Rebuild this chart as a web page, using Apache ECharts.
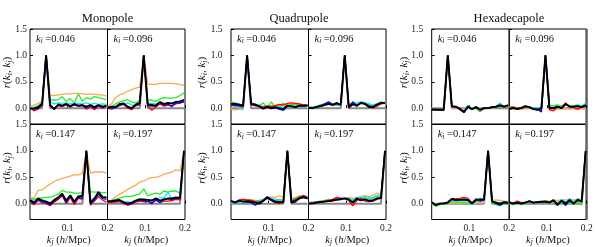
<!DOCTYPE html>
<html><head><meta charset="utf-8">
<script src="https://cdn.jsdelivr.net/npm/echarts@6/dist/echarts.min.js"></script>
<style>html,body{margin:0;padding:0;background:#fff}#c{width:598px;height:247px}</style>
</head><body><div id="c"></div>
<script>
// k_j bin centres (h/Mpc)
const kj = [0.0056,0.0157,0.0258,0.0359,0.046,0.0561,0.0662,0.0763,0.0864,0.0965,0.1066,0.1167,0.1268,0.1369,0.147,0.1571,0.1672,0.1773,0.1874,0.1975];
const kiLabels = ['0.046','0.096','0.147','0.197'];
const groupTitles = ['Monopole','Quadrupole','Hexadecapole'];
const xTicks = [0.1, 0.2];
const yTicks = [0, 0.5, 1.0, 1.5];
// series order in every panel: orange, green, cyan, red, blue, black
const seriesNames = ['orange','green','cyan','red','blue','black'];
// Gaussian expectation (delta) for each k_i
const delta046 = [0,0,0,0,1,0,0,0,0,0,0,0,0,0,0,0,0,0,0,0];
const delta096 = [0,0,0,0,0,0,0,0,0,1,0,0,0,0,0,0,0,0,0,0];
const delta147 = [0,0,0,0,0,0,0,0,0,0,0,0,0,0,1,0,0,0,0,0];
const delta197 = [0,0,0,0,0,0,0,0,0,0,0,0,0,0,0,0,0,0,0,1];

// Monopole
const mono046 = [
 [0.03,0.06,0.09,0.13,1,0.24,0.24,0.25,0.26,0.27,0.27,0.28,0.28,0.27,0.26,0.27,0.26,0.25,0.25,0.23],
 [0.0,0.02,0.05,0.1,1,0.16,0.15,0.16,0.22,0.13,0.18,0.1,0.27,0.13,0.2,0.17,0.22,0.2,0.18,0.16],
 [0.02,0.0,0.03,0.08,1,0.12,0.08,0.1,0.09,0.1,0.08,0.1,0.09,0.08,0.1,0.07,0.09,0.07,0.08,0.07],
 [0.0,-0.05,-0.02,0.05,1,0.04,-0.02,0.05,0.03,0.06,0.02,0.06,0.04,0.05,-0.02,0.03,-0.03,0.04,0.0,0.03],
 [-0.01,-0.02,0.0,0.06,1,0.05,0.0,0.06,0.04,0.07,0.03,0.07,0.04,0.05,0.01,0.05,0.0,0.05,0.02,0.04],
 [0.0,-0.01,0.02,0.08,1,0.06,-0.02,0.07,0.05,0.08,0.04,0.08,0.05,0.06,0.03,0.06,0.02,0.06,0.03,0.05]];
const mono096 = [
 [0.03,0.08,0.2,0.25,0.28,0.32,0.35,0.38,0.4,1,0.45,0.45,0.45,0.47,0.47,0.47,0.47,0.46,0.45,0.43],
 [0.02,0.03,0.08,0.12,0.14,0.16,0.12,0.1,0.15,1,0.16,0.15,0.13,0.17,0.2,0.19,0.19,0.2,0.24,0.29],
 [0.01,0.02,0.04,0.06,0.08,0.1,0.06,0.04,0.07,1,0.1,0.09,0.08,0.1,0.08,0.09,0.08,0.1,0.1,0.12],
 [0.0,-0.02,0.01,0.05,0.07,0.0,-0.03,0.05,0.06,1,0.04,-0.04,0.02,0.08,0.04,0.06,0.05,0.08,0.1,0.12],
 [0.0,0.0,0.01,0.06,0.08,0.02,-0.01,0.06,0.08,1,0.05,0.04,0.04,0.1,0.06,0.08,0.03,0.1,0.1,0.13],
 [0.01,0.03,0.02,0.08,0.09,0.03,0.0,0.07,0.1,1,0.07,0.06,0.05,0.12,0.08,0.1,0.09,0.12,0.13,0.16]];
const mono147 = [
 [0.13,0.1,0.25,0.26,0.32,0.37,0.42,0.45,0.48,0.5,0.52,0.55,0.54,0.58,1,0.58,0.6,0.6,0.6,0.58],
 [0.1,0.08,0.1,0.11,0.12,0.12,0.15,0.18,0.25,0.22,0.22,0.2,0.2,0.2,1,0.23,0.22,0.22,0.21,0.21],
 [0.08,0.04,0.07,0.08,0.05,0.02,0.05,0.1,0.15,0.08,0.14,0.04,0.13,0.12,1,0.07,0.1,0.15,0.12,0.1],
 [0.03,-0.02,0.06,0.02,0.0,-0.04,0.03,0.08,0.15,0.0,0.12,-0.02,0.1,0.08,1,-0.03,0.05,0.13,0.07,0.03],
 [0.05,0.0,0.08,0.04,0.02,-0.02,0.05,0.1,0.17,0.03,0.14,0.02,0.12,0.1,1,0.0,0.07,0.18,0.1,0.08],
 [0.07,0.02,0.1,0.06,0.04,0.0,0.07,0.12,0.19,0.06,0.16,0.04,0.14,0.15,1,0.02,0.1,0.22,0.13,0.12]];
const mono197 = [
 [0.02,0.07,0.13,0.18,0.22,0.27,0.31,0.35,0.41,0.43,0.47,0.5,0.5,0.52,0.56,0.58,0.6,0.64,0.62,1],
 [0.03,0.06,0.08,0.11,0.13,0.14,0.14,0.16,0.18,0.28,0.15,0.18,0.2,0.18,0.24,0.22,0.24,0.24,0.2,1],
 [0.03,0.02,0.08,0.05,0.02,0.04,0.02,0.06,0.1,0.05,0.04,0.08,0.06,0.12,0.1,0.22,0.08,0.1,0.12,1],
 [0.02,0.02,0.03,0.04,0.0,-0.03,-0.01,0.03,0.05,0.04,0.04,0.02,0.06,0.03,0.05,0.05,0.06,0.08,0.07,1],
 [0.04,0.04,0.05,0.06,0.02,-0.01,0.0,0.05,0.07,0.06,0.05,0.0,0.08,0.02,0.07,0.09,0.08,0.1,0.1,1],
 [0.05,0.05,0.06,0.07,0.03,0.0,0.02,0.06,0.08,0.08,0.07,0.06,0.1,0.06,0.08,0.1,0.1,0.12,0.11,1]];

// Quadrupole
const quad046 = [
 [-0.02,-0.03,-0.02,-0.03,1,0.05,0.06,0.05,0.04,0.05,0.05,0.05,0.06,0.05,0.07,0.06,0.07,0.06,0.05,0.05],
 [0.12,0.1,0.07,0.05,1,0.1,0.08,0.05,0.1,0.0,0.12,0.02,0.03,0.1,0.03,0.07,0.06,0.06,0.05,0.06],
 [0.05,0.04,0.0,-0.02,1,0.06,0.05,0.04,0.03,0.02,0.04,0.02,0.03,0.02,0.04,0.01,0.03,0.04,0.03,0.04],
 [0.06,0.05,0.04,0.02,1,0.06,0.05,0.03,0.02,0.04,0.03,0.05,0.07,0.06,0.09,0.1,0.09,0.08,0.06,0.06],
 [0.06,0.06,0.05,0.04,1,0.07,0.06,0.03,0.0,0.02,-0.01,0.01,-0.02,-0.04,0.04,0.03,0.02,0.04,0.04,0.05],
 [0.08,0.08,0.07,0.05,1,0.08,0.07,0.04,-0.01,0.03,0.0,0.02,0.0,-0.02,0.05,0.04,0.02,0.05,0.05,0.05]];
const quad096 = [
 [0.0,0.0,0.02,0.03,0.05,0.07,0.06,0.07,0.06,1,0.03,0.06,0.07,0.1,0.08,0.07,0.05,0.08,0.1,0.09],
 [0.03,0.02,0.04,0.06,0.08,0.1,0.08,0.07,0.08,1,0.05,0.1,0.06,0.12,0.1,0.06,0.04,0.08,0.12,0.1],
 [0.0,-0.01,0.02,0.03,0.05,0.08,0.05,0.06,0.05,1,0.05,0.08,0.1,0.12,0.1,0.08,0.06,0.08,0.09,0.11],
 [0.01,0.0,0.02,0.04,0.06,0.09,0.06,0.08,0.07,1,0.0,0.07,0.06,0.09,0.08,0.05,0.0,0.04,0.08,0.09],
 [0.01,0.0,0.03,0.05,0.08,0.12,0.07,0.09,0.07,1,0.03,0.12,0.05,0.1,0.09,0.04,0.03,0.06,0.09,0.1],
 [0.0,0.0,0.02,0.04,0.06,0.08,0.06,0.1,0.06,1,0.02,0.08,0.04,0.1,0.08,0.02,0.02,0.07,0.1,0.1]];
const quad147 = [
 [0.03,0.02,0.05,0.05,0.06,0.07,0.06,0.05,0.08,0.12,0.13,0.12,0.15,0.12,1,0.1,0.12,0.15,0.14,0.12],
 [0.05,0.02,0.06,0.05,0.06,0.07,0.05,0.06,0.08,0.1,0.08,0.06,0.08,0.06,1,0.08,0.1,0.14,0.12,0.1],
 [0.02,0.0,0.03,0.04,0.03,0.04,0.03,0.04,0.08,0.13,0.1,0.08,0.06,0.05,1,0.06,0.08,0.1,0.11,0.09],
 [0.04,0.03,0.07,0.08,0.07,0.06,0.04,0.03,0.06,0.1,0.06,0.02,0.0,0.02,1,0.05,0.08,0.12,0.16,0.12],
 [0.06,0.03,0.05,0.04,0.03,0.02,-0.03,0.02,0.06,0.13,0.08,0.05,0.04,0.03,1,0.04,0.06,0.1,0.12,0.1],
 [0.05,0.02,0.06,0.04,0.05,0.04,0.02,0.0,0.05,0.12,0.07,0.03,0.03,0.03,1,0.02,0.04,0.1,0.13,0.1]];
const quad197 = [
 [0.0,0.01,0.02,0.03,0.04,0.05,0.06,0.07,0.08,0.1,0.12,0.1,0.12,0.14,0.15,0.14,0.16,0.2,0.17,1],
 [0.02,0.03,0.04,0.05,0.06,0.08,0.07,0.1,0.08,0.1,0.08,0.06,0.08,0.1,0.1,0.12,0.1,0.15,0.12,1],
 [0.01,0.01,0.02,0.04,0.05,0.06,0.07,0.08,0.1,0.09,0.1,0.08,0.1,0.12,0.13,0.1,0.12,0.16,0.14,1],
 [0.01,0.02,0.03,0.04,0.05,0.06,0.08,0.12,0.1,0.1,0.06,-0.04,0.06,0.1,0.05,0.04,0.05,0.08,0.1,1],
 [0.0,0.01,0.02,0.03,0.04,0.05,0.06,0.08,0.1,0.1,0.07,0.03,0.08,0.07,0.08,0.05,0.06,0.1,0.1,1],
 [0.0,0.0,0.02,0.03,0.04,0.05,0.06,0.07,0.08,0.1,0.08,0.02,0.1,0.06,0.08,0.06,0.06,0.1,0.11,1]];

// Hexadecapole
const hexa046 = [
 [0.01,0.0,0.0,0.0,1,-0.01,0.0,-0.01,0.0,0.0,0.01,0.01,0.0,0.0,0.01,0.01,0.01,0.02,0.01,0.02],
 [-0.02,-0.02,-0.02,-0.05,1,0.03,0.02,0.0,-0.05,0.05,-0.01,0.0,-0.07,-0.01,0.01,0.01,0.03,0.02,0.04,0.02],
 [0.0,0.0,-0.01,-0.02,1,0.05,0.02,0.0,-0.04,0.04,0.0,0.03,-0.02,0.01,0.0,0.02,0.04,0.1,0.0,0.07],
 [-0.02,-0.02,-0.02,-0.03,1,0.02,0.03,0.0,-0.06,0.02,-0.02,0.01,-0.04,-0.01,0.0,0.02,0.02,0.04,0.02,0.04],
 [-0.02,-0.03,-0.03,-0.03,1,0.03,0.02,-0.01,-0.07,0.03,-0.02,0.02,-0.03,0.0,0.0,0.02,0.03,0.05,0.03,0.05],
 [-0.03,-0.03,-0.03,-0.03,1,0.04,0.03,-0.02,-0.08,0.03,-0.02,0.02,-0.03,0.0,0.0,0.02,0.03,0.06,0.03,0.06]];
const hexa096 = [
 [0.03,0.02,-0.01,-0.02,-0.01,0.0,-0.01,-0.02,0.0,1,-0.02,-0.02,-0.01,-0.02,-0.01,-0.02,-0.01,-0.02,-0.01,-0.02],
 [0.02,0.02,0.01,0.02,0.04,0.03,0.0,-0.01,0.02,1,0.04,0.05,0.06,0.04,0.08,0.04,0.05,0.06,0.04,0.08],
 [0.0,0.01,0.0,0.01,0.03,0.02,0.0,0.0,0.02,1,0.03,0.02,0.04,0.02,0.08,0.03,0.04,0.05,0.04,0.09],
 [0.01,0.02,0.0,0.0,0.03,0.02,-0.01,-0.03,-0.04,1,-0.03,-0.05,0.02,0.01,0.1,0.03,0.01,-0.02,0.02,0.03],
 [-0.01,0.0,-0.01,0.0,0.03,0.02,-0.02,-0.02,-0.07,1,0.02,0.0,0.03,0.0,0.07,0.03,0.03,0.04,0.02,0.05],
 [-0.02,0.0,-0.02,0.0,0.04,0.02,-0.02,-0.03,0.0,1,0.0,0.0,0.03,0.0,0.08,0.03,0.03,0.04,0.02,0.06]];
const hexa147 = [
 [0.01,0.0,0.0,0.0,0.0,0.01,0.01,0.0,0.01,0.01,0.0,0.01,0.02,0.01,1,0.06,0.07,0.06,0.05,0.04],
 [0.0,-0.05,-0.02,-0.01,0.0,0.04,0.03,0.02,0.03,0.0,0.01,0.04,0.05,0.06,1,0.02,-0.02,-0.04,0.0,-0.02],
 [0.01,-0.03,0.0,0.0,0.02,0.06,0.05,0.05,0.06,0.05,-0.01,0.06,0.1,0.07,1,0.06,0.03,0.01,0.04,0.03],
 [0.02,-0.02,0.0,0.01,0.03,0.1,0.09,0.1,0.12,0.1,0.02,0.08,0.06,0.07,1,0.05,0.01,-0.01,0.02,0.0],
 [0.02,-0.02,0.0,0.01,0.03,0.08,0.06,0.07,0.07,0.06,0.01,0.09,0.05,0.07,1,0.05,0.0,-0.03,0.02,0.01],
 [0.03,-0.03,0.0,0.0,0.02,0.09,0.07,0.07,0.08,0.07,0.0,0.07,0.08,0.08,1,0.04,0.02,0.0,0.03,0.02]];
const hexa197 = [
 [0.0,0.0,0.0,0.01,0.02,0.03,0.03,0.04,0.05,0.05,0.05,0.06,0.06,0.07,0.07,0.07,0.07,0.07,0.07,1],
 [0.01,-0.02,0.0,-0.02,0.0,0.04,0.0,0.01,0.02,0.03,0.0,0.04,-0.01,0.02,-0.03,0.03,-0.02,0.04,-0.03,1],
 [0.02,0.0,0.01,0.0,0.02,0.04,0.03,0.02,0.04,0.05,0.03,0.06,0.02,0.08,0.03,0.1,0.04,0.09,0.08,1],
 [0.0,0.01,0.05,0.02,0.03,0.04,0.02,0.02,0.03,0.05,0.03,0.05,0.0,0.05,0.02,0.06,0.01,0.08,0.05,1],
 [0.03,0.0,0.02,0.0,0.02,0.05,0.02,0.03,0.03,0.04,0.02,0.06,-0.02,0.05,-0.03,0.06,0.0,0.07,0.04,1],
 [0.03,0.0,0.02,0.0,0.02,0.05,0.02,0.03,0.04,0.04,0.02,0.07,-0.03,0.06,0.0,0.07,0.0,0.07,0.04,1]];

const groups = [[mono046,mono096,mono147,mono197],[quad046,quad096,quad147,quad197],[hexa046,hexa096,hexa147,hexa197]];
const deltas = [delta046,delta096,delta147,delta197];

const colors = ['#ffa65a','#22ee22','#00f0f0','#ff0000','#0000ff','#000000'];
const widths = [1.3,1.3,1.3,1.3,1.3,1.8];
const FONT = '"Liberation Serif", "DejaVu Serif", serif';

// layout
const groupLeft = [30, 231, 431.7];
const panelW = 77.5;
const rowTop = [29, 124.5];
const panelH = 95;
const titleX = [107.5, 299, 509];
const yNameX = [7, 202, 404];
const yLabMargin = [3, 8.5, 8.5];

const grid=[], xAxis=[], yAxis=[], series=[], graphic=[];
function richSet(size, subSize, pad) {
  return {
    it:{fontStyle:'italic',fontSize:size,fontFamily:FONT,fill:'#111',color:'#111'},
    sub:{fontStyle:'italic',fontSize:subSize,fontFamily:FONT,fill:'#111',color:'#111',verticalAlign:'bottom',padding:[pad,0,0,0]},
    n:{fontSize:size,fontFamily:FONT,fill:'#111',color:'#111'}
  };
}
const richK = richSet(10.5, 7.5, 5);
const richY = richSet(11, 8, 5);
let gi = 0;
for (let g=0; g<3; g++) {
  for (let r=0; r<2; r++) {
    for (let c=0; c<2; c++) {
      const p = r*2+c;
      const left = groupLeft[g] + c*panelW;
      const top = rowTop[r];
      grid.push({left:left, top:top, width:panelW, height:panelH, show:true, borderColor:'#000', borderWidth:1, backgroundColor:'transparent', containLabel:false});
      xAxis.push({gridIndex:gi, type:'value', min:kj[0], max:0.2,
        axisLine:{show:false}, splitLine:{show:false},
        axisTick:{show:true, inside:true, length:3, customValues:xTicks, lineStyle:{color:'#000',width:1}},
        axisLabel:{show:r===1, customValues:xTicks, showMaxLabel:true, showMinLabel:true, margin:4, fontSize:9.5, fontFamily:FONT, color:'#222', formatter:v=>v.toFixed(1)}});
      yAxis.push({gridIndex:gi, type:'value', min:-0.3, max:1.5,
        axisLine:{show:false}, splitLine:{show:false},
        axisTick:{show:true, inside:true, length:3, customValues:yTicks, lineStyle:{color:'#000',width:1}},
        axisLabel:{show:c===0, customValues:yTicks, showMaxLabel:true, showMinLabel:true, margin:yLabMargin[g], fontSize:9.5, fontFamily:FONT, color:'#222', formatter:v=>v.toFixed(1)}});
      // Gaussian expectation (grey)
      series.push({type:'line', xAxisIndex:gi, yAxisIndex:gi, symbol:'none', silent:true, animation:false,
        lineStyle:{color:'#888', width:2}, data:kj.map((k,i)=>[k, deltas[p][i]])});
      const arrs = groups[g][p];
      arrs.forEach((arr, s) => {
        series.push({type:'line', name:seriesNames[s], xAxisIndex:gi, yAxisIndex:gi, symbol:'none', silent:true, animation:false,
          lineStyle:{color:colors[s], width:widths[s]}, data:kj.map((k,i)=>[k, arr[i]])});
      });
      // k_i label
      graphic.push({type:'text', x:left+6, y:top+10, silent:true,
        style:{text:'{it|k}{sub|i}{n| =' + kiLabels[p] + '}', rich:richK, verticalAlign:'middle', align:'left'}});
      // x axis name
      if (r===1) {
        graphic.push({type:'text', x:left+panelW/2, y:240, silent:true,
          style:{text:'{it|k}{sub|j}{n| (}{it|h}{n|/Mpc)}', rich:richK, align:'center', verticalAlign:'middle'}});
      }
      gi++;
    }
    // y axis name
    graphic.push({type:'text', x:yNameX[g], y:rowTop[r]+panelH/2-4, rotation:Math.PI/2, silent:true,
      style:{text:'{it|r}{n|(}{it|k}{sub|i}{n|, }{it|k}{sub|j}{n|)}', rich:richY, align:'center', verticalAlign:'middle'}});
  }
  graphic.push({type:'text', x:titleX[g], y:19, silent:true,
    style:{text:groupTitles[g], fontSize:12.5, fontFamily:FONT, fill:'#111', align:'center', verticalAlign:'middle'}});
}
// thick grey right frame of the hexadecapole column
graphic.push({type:'line', silent:true, shape:{x1:586.5, y1:rowTop[0], x2:586.5, y2:rowTop[1]+panelH}, style:{stroke:'#666', lineWidth:2.5}});

const chart = echarts.init(document.getElementById('c'), null, {renderer:'canvas'});
chart.setOption({animation:false, grid, xAxis, yAxis, series, graphic});
</script></body></html>
